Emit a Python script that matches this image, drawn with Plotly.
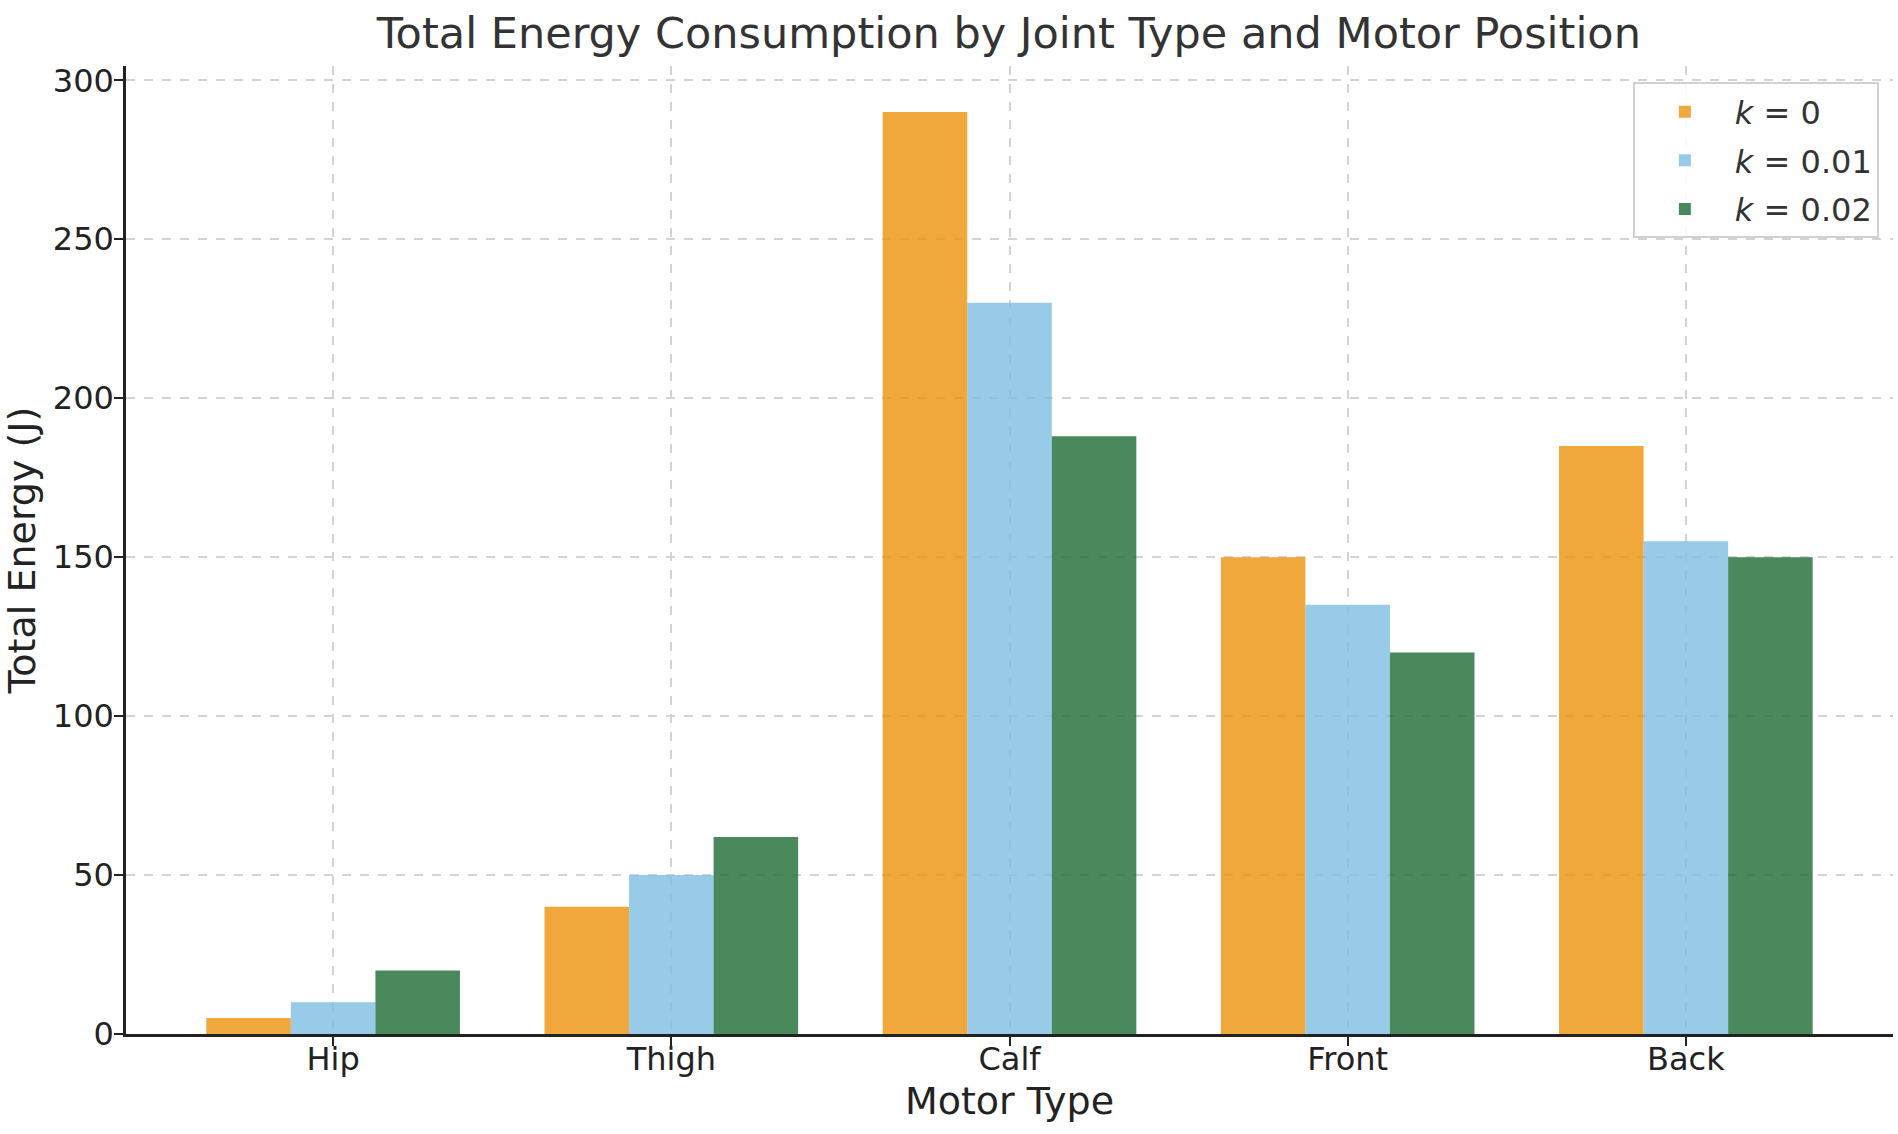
import plotly.graph_objects as go

categories = ["Hip", "Thigh", "Calf", "Front", "Back"]
series_names = ["<i>k</i> = 0", "<i>k</i> = 0.01", "<i>k</i> = 0.02"]
k0 = [5, 40, 290, 150, 185]
k001 = [10, 50, 230, 135, 155]
k002 = [20, 62, 188, 120, 150]
colors = ["rgba(236,146,11,0.8)", "rgba(125,190,226,0.8)", "rgba(29,107,51,0.8)"]

FONT = "DejaVu Sans"
fig = go.Figure()
for i, (name, vals, col) in enumerate(zip(series_names, [k0, k001, k002], colors)):
    fig.add_trace(go.Bar(x=categories, y=vals, name=name, legendgroup=f"g{i}",
                         marker=dict(color=col, line=dict(width=0))))

fig.update_layout(
    width=1898, height=1134,
    margin=dict(l=126, r=5, t=66, b=100),
    paper_bgcolor="white", plot_bgcolor="white",
    barmode="group", bargap=0.25, bargroupgap=0,
    font=dict(family=FONT, size=32, color="#222222"),
    title=dict(text="Total Energy Consumption by Joint Type and Motor Position",
               x=0.5315, xanchor="center", y=0.984, yanchor="top",
               font=dict(size=43, color="#333333")),
    legend=dict(x=0.992, y=0.983, xanchor="right", yanchor="top",
                bordercolor="#d0d0d0", borderwidth=2, bgcolor="rgba(255,255,255,0.85)",
                font=dict(size=32, color="#333333"), itemwidth=90,
                traceorder="grouped", tracegroupgap=4),
    showlegend=True,
)
fig.update_xaxes(
    range=[-0.6125, 4.6125],
    showline=True, linecolor="#222222", linewidth=2.5, mirror=False,
    ticks="outside", ticklen=9, tickwidth=2, tickcolor="#222222",
    ticklabelstandoff=-14,
    showgrid=True, gridcolor="#d3d3d3", griddash="dash", gridwidth=1.5,
    title=dict(text="Motor Type", font=dict(size=38, color="#222222"), standoff=11),
    tickfont=dict(size=32, color="#222222"),
)
fig.update_yaxes(
    range=[0, 304.5], tickvals=[0, 50, 100, 150, 200, 250, 300],
    showline=True, linecolor="#222222", linewidth=2.5, mirror=False,
    ticks="outside", ticklen=9, tickwidth=2, tickcolor="#222222",
    ticklabelstandoff=-6,
    showgrid=True, gridcolor="#d3d3d3", griddash="dash", gridwidth=1.5,
    zeroline=False,
    title=dict(text="Total Energy (J)", font=dict(size=38, color="#222222"), standoff=20),
    tickfont=dict(size=32, color="#222222"),
)

fig.write_html("out.html", config={"displayModeBar": False},
               post_script="document.body.style.margin='0px';")
